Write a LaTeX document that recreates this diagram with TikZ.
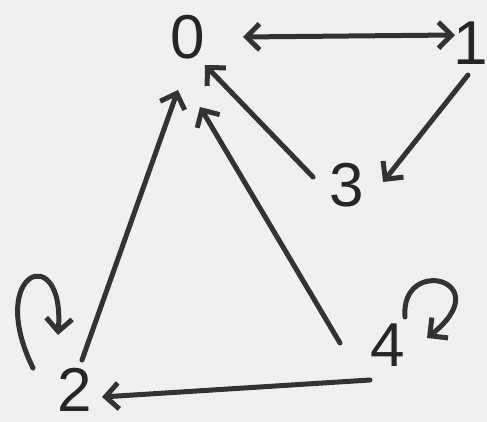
\documentclass[tikz,border=0pt]{standalone}
\usepackage{fontspec}
\setmainfont{Liberation Sans}
\usetikzlibrary{arrows.meta}
\begin{document}
\begin{tikzpicture}[x=1pt,y=-1pt,
  vertex/.style={font=\fontsize{62}{62}\selectfont, text=black!85, inner sep=0pt},
  arc/.style={line width=5pt, draw=black!80, line cap=round,
    -{Straight Barb[length=13pt,width=26pt]}},
  twoway/.style={arc, {Straight Barb[length=13pt,width=26pt]}-{Straight Barb[length=13pt,width=26pt]}}]
\fill[black!6] (0,0) rectangle (487,422);
\useasboundingbox (0,0) rectangle (487,422);
% vertices
\node[vertex] (n0) at (188,37) {0};
\node[vertex] (n1) at (471,43) {1};
\node[vertex] (n3) at (347,185) {3};
\node[vertex] (n4) at (388,345) {4};
\node[vertex] (n2) at (75,390) {2};
% edges
\draw[twoway] ([shift={(55,0)}]n0.center) -- ([shift={(-16,-8)}]n1.center);
\draw[arc] ([shift={(-3,32)}]n1.center) -- ([shift={(36,-3)}]n3.center);
\draw[arc] ([shift={(-34,-8)}]n3.center) -- ([shift={(17,28)}]n0.center);
\draw[arc] ([shift={(-48,-2)}]n4.center) -- ([shift={(12,70)}]n0.center);
\draw[arc] ([shift={(7,-30)}]n2.center) -- ([shift={(-10,53)}]n0.center);
\draw[arc] ([shift={(-18,35)}]n4.center) -- ([shift={(27,7)}]n2.center);
% loops
\draw[arc] ([shift={(-42,-22)}]n2.center) .. controls +(-48,-98) and +(7,-95) .. ([shift={(-17,-55)}]n2.center);
\draw[arc] ([shift={(17,-28)}]n4.center) .. controls +(-5,-62) and +(73,-58) .. ([shift={(39,-7)}]n4.center);
\end{tikzpicture}
\end{document}
